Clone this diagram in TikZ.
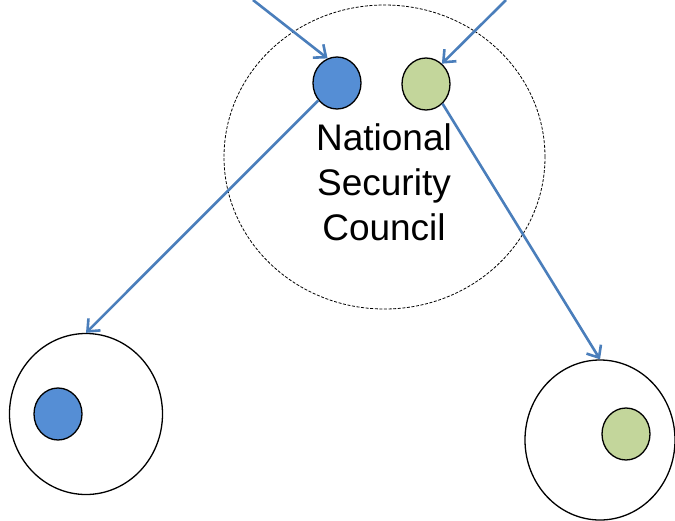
\documentclass[tikz,border=0pt]{standalone}
\usepackage{fontspec}
\setmainfont{Liberation Sans}
\usetikzlibrary{shapes.geometric,arrows.meta}
\definecolor{linkblue}{RGB}{74,126,187}
\definecolor{dotblue}{RGB}{85,142,213}
\definecolor{dotgreen}{RGB}{195,214,155}
\tikzset{
  dot/.style={ellipse, draw=black, line width=1.3pt, minimum width=48pt, minimum height=52pt, inner sep=0pt},
  ring/.style={ellipse, draw=black, line width=1.3pt, inner sep=0pt},
  council/.style={ellipse, draw=black, line width=0.8pt, dash pattern=on 3pt off 1.6pt, minimum width=321pt, minimum height=304pt, inner sep=0pt},
  link/.style={draw=linkblue, line width=2.6pt, -{Straight Barb[length=10pt,width=17pt,line width=2.6pt]}}
}
\begin{document}
\begin{tikzpicture}[x=1pt,y=-1pt]
\useasboundingbox (0,0) rectangle (675,520);
% council boundary and its two members
\node[council] (nsc) at (384.5,157) {};
\node[dot, fill=dotblue] (b1) at (337,83) {};
\node[dot, fill=dotgreen] (g1) at (426,84) {};
\node[align=center, font=\fontsize{37}{45}\selectfont] (lbl) at (384,182) {National\\Security\\Council};
% outer groups
\node[ring, minimum width=153pt, minimum height=161pt] (left) at (86,414) {};
\node[dot, fill=dotblue] (b2) at (58,414) {};
\node[ring, minimum width=150pt, minimum height=160pt] (right) at (600,440) {};
\node[dot, fill=dotgreen] (g2) at (626,434) {};
% incoming links
\coordinate (inL) at (253,0);
\coordinate (inR) at (506,0);
\draw[link] (inL) -- (b1.111);
\draw[link] (inR) -- (g1.52);
% outgoing links
\draw[link] (b1.223) -- (left.north);
\draw[link] (g1.310) -- (right.north);
\end{tikzpicture}
\end{document}
